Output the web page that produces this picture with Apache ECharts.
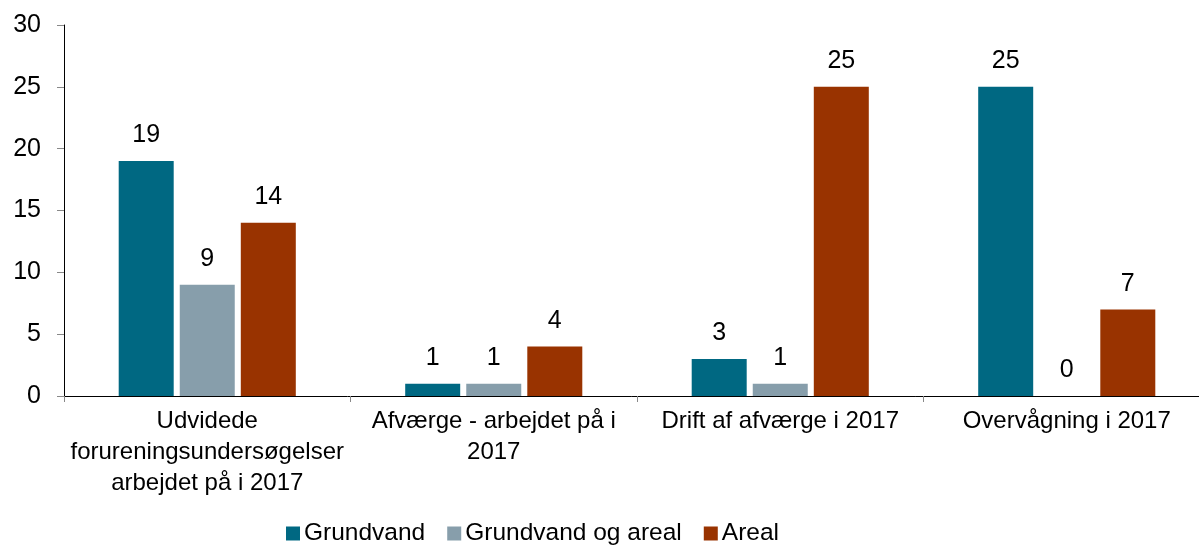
<!DOCTYPE html>
<html>
<head>
<meta charset="utf-8">
<script src="https://cdn.jsdelivr.net/npm/echarts@6/dist/echarts.min.js"></script>
<style>
html,body{margin:0;padding:0;background:#fff;}
#chart{width:1199px;height:545px;}
</style>
</head>
<body>
<div id="chart"></div>
<script>
// data
var categories = [
  'Udvidede\nforureningsundersøgelser\narbejdet på i 2017',
  'Afværge - arbejdet på i\n2017',
  'Drift af afværge i 2017',
  'Overvågning i 2017'
];
var grundvand = [19, 1, 3, 25];
var grundvandOgAreal = [9, 1, 1, 0];
var areal = [14, 4, 25, 7];
var yTicks = [0, 5, 10, 15, 20, 25, 30];

var font = 'Liberation Sans, Arial, sans-serif';
var myecharts = echarts.init(document.getElementById('chart'));

function bar(name, data, color) {
  return {
    name: name,
    type: 'bar',
    data: data,
    barWidth: 55,
    barGap: '11%',
    itemStyle: {color: color},
    label: {
      show: true,
      position: 'top',
      distance: 13,
      color: '#000',
      fontFamily: font,
      fontSize: 25
    }
  };
}

var option = {
  animation: false,
  grid: {left: 64, width: 1146, top: 25, height: 371, containLabel: false, outerBoundsMode: 'none'},
  legend: {
    bottom: -6,
    left: 281,
    itemWidth: 14,
    itemHeight: 14,
    itemGap: 22,
    icon: 'rect',
    textStyle: {fontFamily: font, fontSize: 24.5, color: '#000', padding: [0, 0, 0, -1]},
    data: ['Grundvand', 'Grundvand og areal', 'Areal']
  },
  xAxis: {
    type: 'category',
    data: categories,
    axisLine: {lineStyle: {color: '#000', width: 1}},
    axisTick: {show: true, length: 6, lineStyle: {color: '#888'}},
    axisLabel: {
      interval: 0,
      margin: 10,
      color: '#000',
      fontFamily: font,
      fontSize: 24,
      lineHeight: 31
    }
  },
  yAxis: {
    type: 'value',
    min: yTicks[0],
    max: yTicks[yTicks.length - 1],
    interval: 5,
    splitLine: {show: false},
    axisLine: {show: true, lineStyle: {color: '#000', width: 1}},
    axisTick: {show: true, length: 7, lineStyle: {color: '#888'}},
    axisLabel: {
      margin: 23,
      color: '#000',
      fontFamily: font,
      fontSize: 25
    }
  },
  series: [
    bar('Grundvand', grundvand, '#006882'),
    bar('Grundvand og areal', grundvandOgAreal, '#879eab'),
    bar('Areal', areal, '#993300')
  ]
};
myecharts.setOption(option);
</script>
</body>
</html>
